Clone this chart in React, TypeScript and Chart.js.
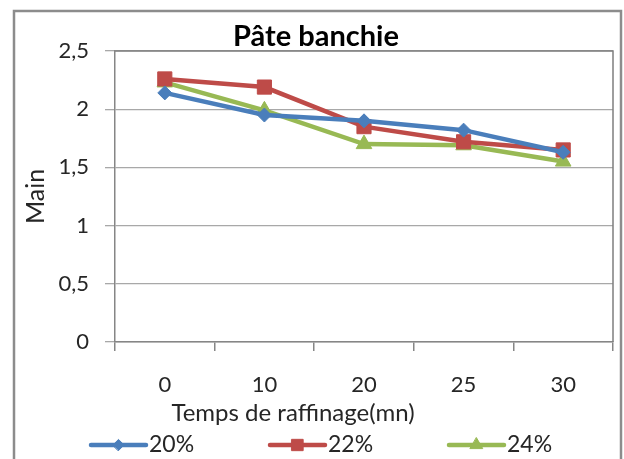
import { useEffect, useRef } from "react";
import { Chart, registerables } from "chart.js";
import { drawPoint } from "chart.js/helpers";

Chart.register(...registerables);

const chartTitle = "Pâte banchie";
const xAxisTitle = "Temps de raffinage(mn)";
const yAxisTitle = "Main";
const categories = ["0", "10", "20", "25", "30"];
const seriesLabels = ["20%", "22%", "24%"];
const values20 = [2.14, 1.95, 1.9, 1.82, 1.63];
const values22 = [2.26, 2.19, 1.85, 1.72, 1.65];
const values24 = [2.23, 1.99, 1.7, 1.69, 1.55];
const yMin = 0;
const yMax = 2.5;
const yStep = 0.5;

const seriesColors = ["#4A7EBB", "#BE4B48", "#98B954"];
const seriesStyles = ["rectRot", "rect", "triangle"];
const seriesRadius = [7, 10, 9];
const FONT = "Lato, 'Open Sans', sans-serif";
const TEXT = "#262626";

const framePlugin = {
  id: "frame",
  beforeDraw(chart: any) {
    const ctx = chart.ctx;
    ctx.save();
    ctx.fillStyle = "#ffffff";
    ctx.fillRect(0, 0, chart.width, chart.height);
    ctx.strokeStyle = "#8c8c8c";
    ctx.lineWidth = 2.5;
    ctx.strokeRect(14, 11, chart.width - 17, chart.height + 20);
    ctx.restore();
  },
  beforeDatasetsDraw(chart: any) {
    const { ctx, chartArea } = chart;
    ctx.save();
    ctx.strokeStyle = "#7f7f7f";
    ctx.lineWidth = 1.5;
    ctx.beginPath();
    ctx.moveTo(chartArea.left, chartArea.top);
    ctx.lineTo(chartArea.right, chartArea.top);
    ctx.lineTo(chartArea.right, chartArea.bottom);
    ctx.stroke();
    ctx.restore();
  },
  afterDraw(chart: any) {
    const { ctx } = chart;
    ctx.save();
    ctx.fillStyle = TEXT;
    ctx.font = `24px ${FONT}`;
    ctx.textAlign = "center";
    ctx.textBaseline = "middle";
    ctx.fillText(xAxisTitle, 293, 413);
    // legend
    const legendY = 445;
    const startX = 91;
    const step = 179;
    const lineLen = 55;
    chart.data.datasets.forEach((ds: any, i: number) => {
      const x0 = startX + i * step;
      ctx.strokeStyle = ds.borderColor;
      ctx.lineWidth = ds.borderWidth;
      ctx.lineCap = "round";
      ctx.beginPath();
      ctx.moveTo(x0, legendY);
      ctx.lineTo(x0 + lineLen, legendY);
      ctx.stroke();
      ctx.fillStyle = ds.pointBackgroundColor;
      ctx.strokeStyle = ds.pointBorderColor;
      ctx.lineWidth = 1;
      drawPoint(ctx, { pointStyle: ds.pointStyle, radius: ds.pointRadius * 0.8, rotation: 0, borderWidth: 1 }, x0 + lineLen / 2, legendY);
      ctx.fillStyle = TEXT;
      ctx.textAlign = "left";
      ctx.font = `23px ${FONT}`;
      ctx.fillText(ds.label, x0 + lineLen + 3, legendY);
    });
    ctx.restore();
  },
};

export default function App() {
  const ref = useRef<HTMLCanvasElement | null>(null);
  useEffect(() => {
    if (!ref.current) return;
    const seriesValues = [values20, values22, values24];
    const chart = new Chart(ref.current, {
      type: "line",
      data: {
        labels: categories,
        datasets: seriesLabels.map((label, i) => ({
          label,
          data: seriesValues[i],
          borderColor: seriesColors[i],
          backgroundColor: seriesColors[i],
          pointBackgroundColor: seriesColors[i],
          pointBorderColor: seriesColors[i],
          pointStyle: seriesStyles[i] as any,
          pointRadius: seriesRadius[i],
          pointBorderWidth: 1,
          borderWidth: 4.5,
          tension: 0,
          fill: false,
        })),
      },
      options: {
        responsive: false,
        animation: false,
        devicePixelRatio: 1,
        layout: { padding: { left: 12, right: 4, top: 0, bottom: 0 } },
        plugins: {
          legend: { display: false },
          tooltip: { enabled: false },
          title: {
            display: true,
            text: chartTitle,
            color: "#000",
            font: { family: FONT, size: 29, weight: "bold", lineHeight: 1 },
            padding: { top: 22, bottom: 0 },
          },
        },
        scales: {
          x: {
            offset: true,
            grid: { offset: true, drawOnChartArea: false, drawTicks: true, tickLength: 9, color: "#868686", lineWidth: 1.5 },
            border: { color: "#868686", width: 1.5 },
            ticks: { padding: 21, color: TEXT, font: { family: FONT, size: 22 }, maxRotation: 0 },
            afterFit: (s: any) => {
              s.height = 117;
            },
          },
          y: {
            min: yMin,
            max: yMax,
            ticks: {
              stepSize: yStep,
              padding: 16,
              color: TEXT,
              font: { family: FONT, size: 22 },
              callback: (v: any) => String(v).replace(".", ","),
            },
            grid: { color: "#a8a8a8", lineWidth: 1.3, tickLength: 10, drawTicks: true },
            border: { color: "#868686", width: 1.5 },
            title: {
              display: true,
              text: yAxisTitle,
              color: TEXT,
              font: { family: FONT, size: 25 },
              padding: { top: 9, bottom: 0 },
            },
            afterFit: (s: any) => {
              s.width = 103;
            },
          },
        },
      },
      plugins: [framePlugin],
    });
    return () => chart.destroy();
  }, []);
  return (
    <div style={{ position: "absolute", left: 0, top: 0, width: 624, height: 459 }}>
      <canvas ref={ref} width={624} height={459} style={{ display: "block" }} />
    </div>
  );
}
